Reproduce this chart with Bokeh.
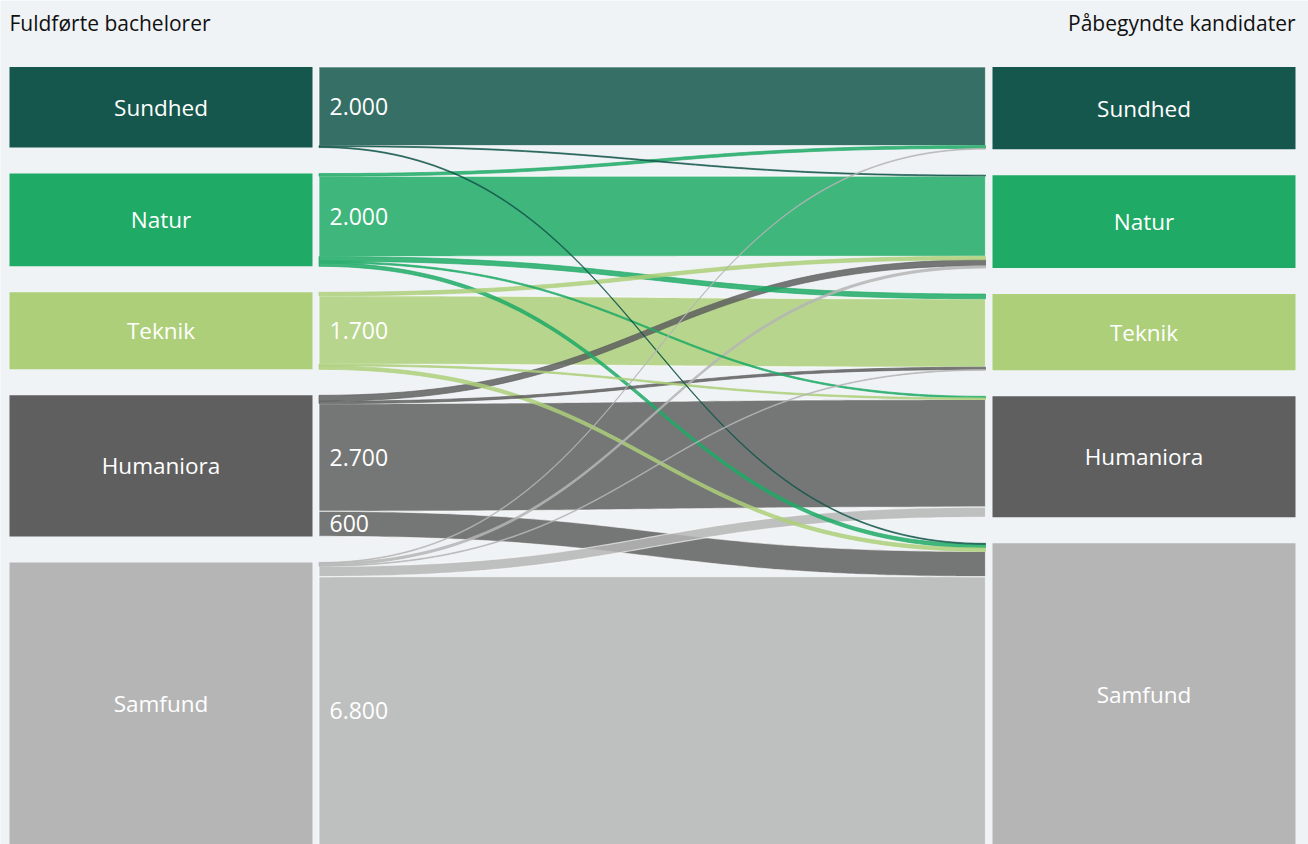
import numpy as np
from bokeh.plotting import figure
from bokeh.models import Range1d
from bokeh.embed import file_html
from bokeh.resources import INLINE
from bokeh.core.properties import value

# ---------------- data ----------------
categories = ["Sundhed", "Natur", "Teknik", "Humaniora", "Samfund"]
node_colors = ["#15574c", "#1faa66", "#adcf7a", "#5f5f5f", "#b5b5b5"]

# flows from bachelor field (row) to kandidat field (columns in `categories` order)
flow_sundhed = [2000, 25, 0, 0, 25]
flow_natur = [70, 2040, 120, 40, 90]
flow_teknik = [0, 90, 1740, 40, 90]
flow_humaniora = [0, 150, 60, 2740, 640]
flow_samfund = [20, 60, 20, 260, 6840]

left_title = "Fuldførte bachelorer"
right_title = "Påbegyndte kandidater"
label_min = 500

# ---------------- layout ----------------
W, H = 1308, 844
S_PX = 0.0393      # pixels per person
GAP_PX = 26
TOP_PX = 66.5
BG = "#f0f3f6"
FONT = value("Open Sans")

L_X0, L_X1 = 9, 312
F_X0, F_X1 = 318.5, 985
R_X0, R_X1 = 992, 1295

flows = np.array([flow_sundhed, flow_natur, flow_teknik, flow_humaniora, flow_samfund], dtype=float)
n = len(categories)
gap = GAP_PX / S_PX

left_tot = flows.sum(axis=1)
right_tot = flows.sum(axis=0)
left_top = np.concatenate([[0], np.cumsum(left_tot)[:-1]]) + np.arange(n) * gap
right_top = np.concatenate([[0], np.cumsum(right_tot)[:-1]]) + np.arange(n) * gap

p = figure(width=W, height=H, output_backend="svg", toolbar_location=None,
           x_range=Range1d(0, W),
           y_range=Range1d(start=(H - TOP_PX) / S_PX, end=-TOP_PX / S_PX),
           x_axis_type=None, y_axis_type=None, min_border=0)
p.grid.visible = False
p.outline_line_color = None
p.background_fill_color = BG
p.border_fill_color = BG

# nodes
p.quad(left=[L_X0] * n, right=[L_X1] * n, top=list(left_top), bottom=list(left_top + left_tot),
       fill_color=node_colors, line_color=None)
p.quad(left=[R_X0] * n, right=[R_X1] * n, top=list(right_top), bottom=list(right_top + right_tot),
       fill_color=node_colors, line_color=None)

# flows: stacked by target order at source, by source order at target
src_off = left_top.copy()
flow_list = []
for i in range(n):
    for j in range(n):
        if flows[i, j] > 0:
            flow_list.append([i, j, flows[i, j], src_off[i], 0.0])
            src_off[i] += flows[i, j]
tgt_off = right_top.copy()
for j in range(n):
    for f in flow_list:
        if f[1] == j:
            f[4] = tgt_off[j]
            tgt_off[j] += f[2]

t = np.linspace(0, 1, 100)
xm = (F_X0 + F_X1) / 2
bx = (1 - t) ** 3 * F_X0 + 3 * (1 - t) ** 2 * t * xm + 3 * (1 - t) * t ** 2 * xm + t ** 3 * F_X1

def by(y0, y1):
    return (1 - t) ** 3 * y0 + 3 * (1 - t) ** 2 * t * y0 + 3 * (1 - t) * t ** 2 * y1 + t ** 3 * y1

order = sorted(flow_list, key=lambda f: -f[2])
xs, ys, cols, lcols, lalph, lw = [], [], [], [], [], []
for i, j, v, y0, y1 in order:
    top = by(y0, y1)
    bot = by(y0 + v, y1 + v)
    xs.append(list(np.concatenate([bx, bx[::-1]])))
    ys.append(list(np.concatenate([top, bot[::-1]])))
    cols.append(node_colors[i])
    if v * S_PX < 6:
        lcols.append(node_colors[i]); lalph.append(0.85); lw.append(0.8)
    else:
        lcols.append("white"); lalph.append(0.6); lw.append(1.2)
p.patches(xs, ys, fill_color=cols, fill_alpha=0.85, line_color=lcols, line_alpha=lalph, line_width=lw)

# flow labels
lab_x, lab_y, lab_t = [], [], []
for i, j, v, y0, y1 in flow_list:
    if v >= label_min:
        lab_x.append(F_X0 + 10.5)
        lab_y.append(y0 + v / 2)
        lab_t.append(f"{round(v, -2):,.0f}".replace(",", "."))
p.text(lab_x, lab_y, text=lab_t, text_font=FONT, text_font_size="23px", text_color="white",
       text_align="left", text_baseline="middle")

# node labels
p.text([(L_X0 + L_X1) / 2] * n, list(left_top + left_tot / 2), text=categories, text_font=FONT,
       text_font_size="22.5px", text_color="white", text_align="center", text_baseline="middle")
p.text([(R_X0 + R_X1) / 2] * n, list(right_top + right_tot / 2), text=categories, text_font=FONT,
       text_font_size="22.5px", text_color="white", text_align="center", text_baseline="middle")

# column titles
ty = (22 - TOP_PX) / S_PX
p.text([L_X0], [ty], text=[left_title], text_font=FONT, text_font_size="21px", text_color="#111111",
       text_align="left", text_baseline="middle")
p.text([R_X1], [ty], text=[right_title], text_font=FONT, text_font_size="21px", text_color="#111111",
       text_align="right", text_baseline="middle")

open("out.html", "w").write(file_html(p, INLINE))
